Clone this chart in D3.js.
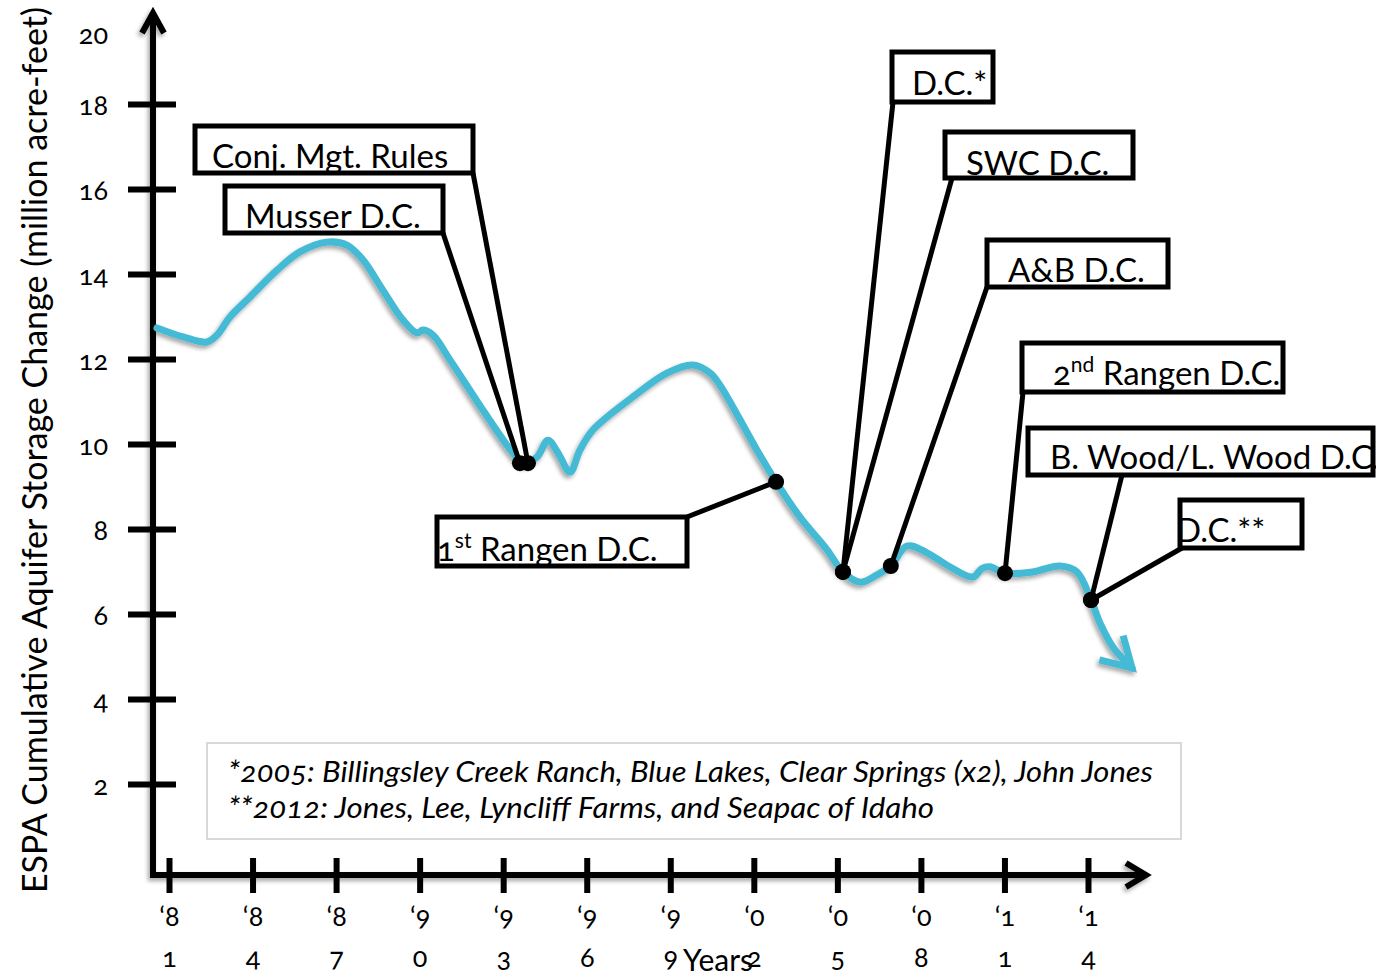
<!DOCTYPE html>
<html lang="en">
<head>
<meta charset="UTF-8">
<title>ESPA Cumulative Aquifer Storage Change</title>
<script src="https://cdn.jsdelivr.net/npm/d3@7"></script>
<style>
  body { margin: 0; background: #fff; }
  svg text { font-family: Lato, "Open Sans", sans-serif; fill: #000; }
  .num { font-variant-numeric: oldstyle-nums; font-feature-settings: "onum" 1; }
</style>
</head>
<body>
<div id="chart"></div>
<script>
// curve (million acre-feet)
const years = [1980.57, 1981.50, 1982.36, 1982.72, 1983.19, 1983.91, 1984.88, 1985.70, 1986.67, 1987.39,
  1987.97, 1988.68, 1989.40, 1989.91, 1990.12, 1990.48, 1991.09, 1992.27, 1993.35, 1993.71,
  1994.21, 1994.61, 1994.97, 1995.40, 1995.76, 1996.22, 1997.66, 1998.88, 1999.82, 2000.43,
  2000.78, 2002.11, 2002.80, 2003.66, 2004.63, 2005.20, 2005.81, 2006.42, 2006.92, 2007.50,
  2008.22, 2009.04, 2009.87, 2010.19, 2010.48, 2011.02, 2012.02, 2012.99, 2013.60, 2014.11,
  2014.43, 2014.90, 2015.58];
const storage = [12.73, 12.52, 12.40, 12.56, 12.99, 13.46, 14.09, 14.52, 14.75, 14.68,
  14.33, 13.62, 12.92, 12.61, 12.68, 12.56, 11.98, 10.80, 9.79, 9.55,
  9.69, 10.09, 9.79, 9.34, 9.86, 10.33, 11.11, 11.67, 11.86, 11.67,
  11.39, 9.86, 9.11, 8.28, 7.51, 6.99, 6.75, 6.92, 7.13, 7.60,
  7.44, 7.11, 6.87, 7.07, 7.11, 6.96, 6.99, 7.13, 6.99, 6.33,
  5.79, 5.22, 4.73];

const xTickYears = [1981, 1984, 1987, 1990, 1993, 1996, 1999, 2002, 2005, 2008, 2011, 2014];
const xTickLabels = ["‘81", "‘84", "‘87", "‘90", "‘93", "‘96", "‘99", "‘02", "‘05", "‘08", "‘11", "‘14"];
const yTickValues = [2, 4, 6, 8, 10, 12, 14, 16, 18];
const yLabelValues = [2, 4, 6, 8, 10, 12, 14, 16, 18, 20];

// decisions marked on the curve
const eventNames = ["Conj. Mgt. Rules", "Musser D.C.", "1st Rangen D.C.", "D.C.*", "SWC D.C.",
  "A&B D.C.", "2nd Rangen D.C.", "B. Wood/L. Wood D.C.", "D.C.**"];
const eventYears = [1993.89, 1993.60, 2002.80, 2005.20, 2005.20, 2006.92, 2011.02, 2014.11, 2014.11];
const eventValues = [9.55, 9.55, 9.11, 6.99, 6.99, 7.13, 6.96, 6.33, 6.33];

const footnotes = [
  "*2005: Billingsley Creek Ranch,  Blue Lakes, Clear Springs (x2), John Jones",
  "**2012: Jones, Lee, Lyncliff Farms, and Seapac of Idaho"
];

// label boxes (pixels): box, text offset, leader start offset
const boxes = [
  { x: 195, y: 126, w: 278, h: 47, tx: 17, ty: 42, lx: 278, ly: 47 },
  { x: 225, y: 186, w: 218, h: 47, tx: 20, ty: 42, lx: 218, ly: 47 },
  { x: 437, y: 517, w: 250, h: 49, tx: 0, ty: 44, lx: 250, ly: 0 },
  { x: 892, y: 52, w: 101, h: 50, tx: 20, ty: 43, lx: 1, ly: 50 },
  { x: 945, y: 132, w: 188, h: 46, tx: 21, ty: 43, lx: 7, ly: 46 },
  { x: 987, y: 240, w: 181, h: 47, tx: 21, ty: 42, lx: 0, ly: 47 },
  { x: 1022, y: 343, w: 261, h: 49, tx: 31, ty: 42, lx: 1, ly: 49 },
  { x: 1028, y: 428, w: 345, h: 47, tx: 22, ty: 41, lx: 94, ly: 47 },
  { x: 1180, y: 500, w: 122, h: 48, tx: -4, ty: 42, lx: 2, ly: 48 }
];

const width = 1376, height = 977;
const cyan = "#45bad5";

const svg = d3.select("#chart").append("svg")
  .attr("width", width)
  .attr("height", height);

const x = d3.scaleLinear().domain([1981, 2014]).range([169, 1088]);
const y = d3.scaleLinear().domain([0, 20]).range([869, 19]);

const defs = svg.append("defs");
const shadow = defs.append("filter")
  .attr("id", "shadow")
  .attr("filterUnits", "userSpaceOnUse")
  .attr("x", 0).attr("y", 0).attr("width", width).attr("height", height);
shadow.append("feDropShadow")
  .attr("dx", -2).attr("dy", 3).attr("stdDeviation", 2)
  .attr("flood-color", "#000").attr("flood-opacity", 0.35);

defs.append("marker")
  .attr("id", "curveArrow")
  .attr("markerUnits", "userSpaceOnUse")
  .attr("viewBox", "-40 -25 50 50")
  .attr("refX", 0).attr("refY", 0)
  .attr("markerWidth", 50).attr("markerHeight", 50)
  .attr("orient", "auto")
  .append("path")
  .attr("d", "M-29,-17L0,0L-29,17")
  .attr("fill", "none")
  .attr("stroke", cyan)
  .attr("stroke-width", 7);

// axes lines with arrows
const axes = svg.append("g").attr("filter", "url(#shadow)");
axes.append("path")
  .attr("d", "M153,878V14M1147,875H150")
  .attr("stroke", "#000").attr("stroke-width", 6).attr("fill", "none");
axes.append("path")
  .attr("d", "M142,33L153,13L164,33M1126,863L1146,875L1126,887")
  .attr("stroke", "#000").attr("stroke-width", 6).attr("fill", "none")
  .attr("stroke-linejoin", "miter");

// y axis ticks
const yAxis = d3.axisLeft(y)
  .tickValues(yLabelValues)
  .tickSize(-48)
  .tickPadding(20)
  .tickFormat(d => d);
const gy = svg.append("g").attr("transform", "translate(128,0)").call(yAxis);
gy.select(".domain").remove();
gy.selectAll(".tick line").attr("stroke", "#000").attr("stroke-width", 6)
  .filter(d => !yTickValues.includes(d)).remove();
gy.selectAll(".tick text")
  .attr("class", "num")
  .attr("font-size", 27)
  .attr("font-family", null)
  .attr("fill", "#000")
  .attr("dy", d => d === 20 ? "0.9em" : "0.4em");

// x axis ticks
const xAxis = d3.axisBottom(x)
  .tickValues(xTickYears)
  .tickSize(35)
  .tickFormat("");
const gx = svg.append("g").attr("transform", "translate(0,858)").call(xAxis);
gx.select(".domain").remove();
gx.selectAll(".tick line").attr("stroke", "#000").attr("stroke-width", 6);
gx.selectAll(".tick text").each(function(d, i) {
  const t = d3.select(this)
    .attr("class", "num")
    .attr("font-size", 27)
    .attr("font-family", null)
    .attr("fill", "#000")
    .attr("y", 0).attr("dy", null)
    .text(null);
  const lab = xTickLabels[i];
  t.append("tspan").attr("x", 0).attr("y", 68).text(lab.slice(0, 2));
  t.append("tspan").attr("x", 0).attr("y", 109).text(lab.slice(2));
});

svg.append("text")
  .attr("x", 683).attr("y", 971)
  .attr("font-size", 30)
  .text("Years");

svg.append("text")
  .attr("transform", "translate(47,450) rotate(-90)")
  .attr("text-anchor", "middle")
  .attr("font-size", 34)
  .text("ESPA Cumulative Aquifer Storage Change (million acre-feet)");

// footnote box
svg.append("rect")
  .attr("x", 207).attr("y", 743).attr("width", 974).attr("height", 96)
  .attr("fill", "#fff").attr("stroke", "#d9d9d9").attr("stroke-width", 2);
const footWidths = [925, 706];
svg.append("g").selectAll("text")
  .data(footnotes)
  .join("text")
  .attr("class", "num")
  .attr("x", 228)
  .attr("y", (d, i) => 782 + i * 36)
  .attr("font-size", 28)
  .attr("font-style", "italic")
  .attr("textLength", (d, i) => footWidths[i])
  .attr("lengthAdjust", "spacingAndGlyphs")
  .text(d => d);

// storage curve
const points = years.map((yr, i) => [x(yr), y(storage[i])]);
const line = d3.line().curve(d3.curveCatmullRom.alpha(0.5));
svg.append("path")
  .attr("d", line(points))
  .attr("fill", "none")
  .attr("stroke", cyan)
  .attr("stroke-width", 7)
  .attr("stroke-linecap", "round")
  .attr("stroke-linejoin", "round")
  .attr("marker-end", "url(#curveArrow)")
  .attr("filter", "url(#shadow)");

// callouts
const callouts = svg.append("g");
eventNames.forEach((name, i) => {
  const b = boxes[i];
  const px = x(eventYears[i]), py = y(eventValues[i]);
  callouts.append("line")
    .attr("x1", b.x + b.lx).attr("y1", b.y + b.ly)
    .attr("x2", px).attr("y2", py)
    .attr("stroke", "#000").attr("stroke-width", 5);
});
eventNames.forEach((name, i) => {
  callouts.append("circle")
    .attr("cx", x(eventYears[i])).attr("cy", y(eventValues[i]))
    .attr("r", 8).attr("fill", "#000");
});
eventNames.forEach((name, i) => {
  const b = boxes[i];
  const t = callouts.append("text")
    .attr("class", "num")
    .attr("x", b.x + b.tx).attr("y", b.y + b.ty)
    .attr("font-size", 33)
    .attr("fill", "#111");
  const m = name.match(/^(\d)(st|nd|rd|th)( .*)$/);
  if (m) {
    t.append("tspan").text(m[1]);
    t.append("tspan").attr("dy", -13).attr("font-size", 21).text(m[2]);
    t.append("tspan").attr("dy", 13).text(m[3]);
  } else {
    t.text(name);
  }
  callouts.append("rect")
    .attr("x", b.x).attr("y", b.y).attr("width", b.w).attr("height", b.h)
    .attr("fill", "none").attr("stroke", "#000").attr("stroke-width", 5);
});
</script>
</body>
</html>
